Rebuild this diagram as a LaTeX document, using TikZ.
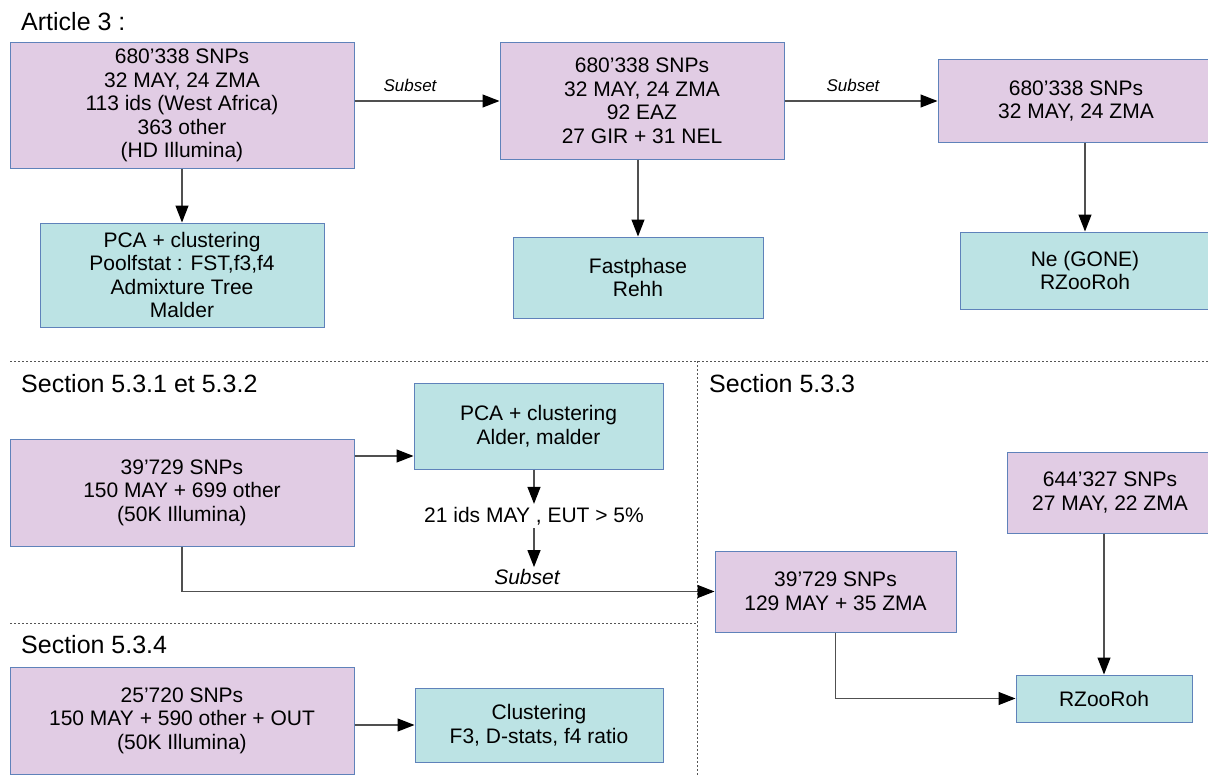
\documentclass[tikz,border=0pt]{standalone}
\usepackage{fontspec}
\setmainfont{Liberation Sans}
\usepackage{xcolor}
\usepackage{tikz}
\usetikzlibrary{arrows.meta,positioning}
\definecolor{datapurple}{HTML}{E1CCE4}
\definecolor{toolteal}{HTML}{BCE3E4}
\definecolor{boxline}{HTML}{5F82BA}
\definecolor{linegray}{HTML}{505050}
\definecolor{sepgray}{HTML}{555555}

\begin{document}
\begin{tikzpicture}[
  x=1pt,y=-1pt,
  font=\fontsize{21}{23.5}\selectfont,
  data/.style={draw=boxline,line width=1pt,fill=datapurple,align=center,inner sep=0pt},
  tool/.style={draw=boxline,line width=1pt,fill=toolteal,align=center,inner sep=0pt},
  hd/.style={font=\fontsize{25}{28}\selectfont,anchor=base west,inner sep=0pt},
  sub/.style={font=\fontsize{17}{20}\selectfont\itshape,inner sep=1pt},
  fl/.style={-{Triangle[length=17pt,width=13pt,color=black]},draw=linegray,line width=1.2pt},
  sep/.style={draw=sepgray,line width=1pt,dash pattern=on 2pt off 2pt},
]
\useasboundingbox (0,0) rectangle (1208,776);
% separators
\draw[sep] (10,361) -- (1208,361);
\draw[sep] (697,361) -- (697,776);
\draw[sep] (10,623) -- (697,623);
% titles
\node[hd] (t1) at (21,30.5) {Article 3 :};
\node[hd] (t2) at (21,392) {Section 5.3.1 et 5.3.2};
\node[hd] (t3) at (709,392) {Section 5.3.3};
\node[hd] (t4) at (21,653) {Section 5.3.4};
% Article 3
\node[data,minimum width=344,minimum height=125] (A1) at (182,105.5) {680’338 SNPs\\32 MAY, 24 ZMA\\113 ids (West Africa)\\363 other\\(HD Illumina)};
\node[data,minimum width=284,minimum height=116] (A2) at (642,101) {680’338 SNPs\\32 MAY, 24 ZMA\\92 EAZ\\27 GIR + 31 NEL};
\node[data,minimum width=276,minimum height=82] (A3) at (1076,101) {680’338 SNPs\\32 MAY, 24 ZMA};
\node[tool,minimum width=284,minimum height=104] (B1) at (182,275) {PCA + clustering\\Poolfstat : FST,f3,f4\\Admixture Tree\\Malder};
\node[tool,minimum width=250,minimum height=81] (B2) at (638,277.5) {Fastphase\\Rehh};
\node[tool,minimum width=250,minimum height=77] (B3) at (1085,270.5) {Ne (GONE)\\RZooRoh};
\node[sub] (s1) at (410,85) {Subset};
\node[sub] (s2) at (853,85) {Subset};
\draw[fl] (A1.east |- A2.west) -- (A2.west);
\draw[fl] (A2.east) -- (A3.west |- A2.east);
\draw[fl] (A1.south) -- (B1.north);
\draw[fl] (A2.south -| B2.north) -- (B2.north);
\draw[fl] (A3.south -| B3.north) -- (B3.north);
% Section 5.3.1 et 5.3.2
\node[data,minimum width=344,minimum height=107] (D1) at (182,492.5) {39’729 SNPs\\150 MAY + 699 other\\(50K Illumina)};
\node[tool,minimum width=249,minimum height=86] (C1) at (538.5,426) {PCA + clustering\\Alder, malder};
\node[inner sep=3pt] (ids) at (534,516) {21 ids MAY , EUT > 5\%};
\node[font=\fontsize{21}{23.5}\selectfont\itshape,inner sep=2pt] (s3) at (527,577) {Subset};
\coordinate (c1in) at ([yshift=-30pt]C1.west);
\draw[fl] (D1.east |- c1in) -- (c1in);
\draw[fl] (C1.south -| ids.north) -- (ids.north);
\draw[fl] (ids.south) -- (ids.south |- s3.north);
% Section 5.3.3
\node[data,minimum width=241,minimum height=81] (E1) at (835.5,591.5) {39’729 SNPs\\129 MAY + 35 ZMA};
\node[data,minimum width=206,minimum height=81] (F1) at (1110,492.5) {644’327 SNPs\\27 MAY, 22 ZMA};
\node[tool,minimum width=176,minimum height=47] (G1) at (1104,698.5) {RZooRoh};
\draw[fl] (D1.south) |- (E1.west);
\draw[fl] (E1.south) |- (G1.west);
\draw[fl] (F1.south -| G1.north) -- (G1.north);
% Section 5.3.4
\node[data,minimum width=344,minimum height=107] (H1) at (182,720.5) {25’720 SNPs\\150 MAY + 590 other + OUT\\(50K Illumina)};
\node[tool,minimum width=248,minimum height=74] (H2) at (539,725) {Clustering\\F3, D-stats, f4 ratio};
\draw[fl] (H1.east |- H2.west) -- (H2.west);
\end{tikzpicture}
\end{document}
